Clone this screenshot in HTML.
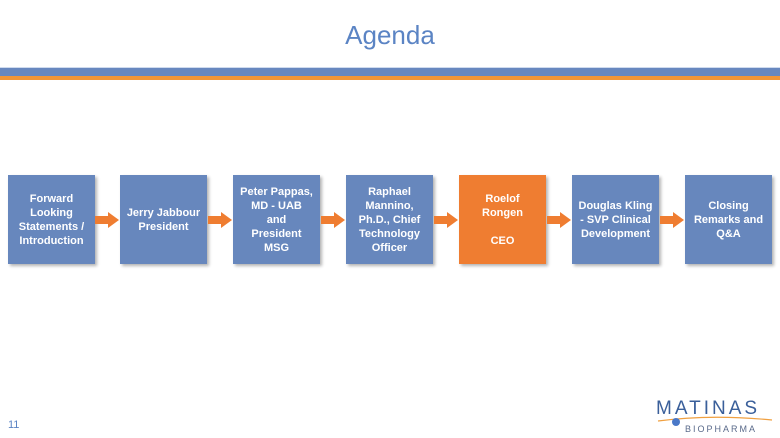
<!DOCTYPE html>
<html><head><style>
body{margin:0;width:780px;height:438px;background:#fff;position:relative;overflow:hidden;font-family:"Liberation Sans",sans-serif}
.t{position:absolute;top:20px;left:0;width:780px;text-align:center;font-size:26px;color:#5b84c4}
.b{position:absolute;width:87px;height:89px;top:175px;background:#6787bd;box-shadow:2px 2px 3px rgba(0,0,0,.3);color:#fff;font-weight:bold;font-size:11px;line-height:14px;display:flex;align-items:center;justify-content:center;text-align:center}
.o{background:#ef7d31}
.a{position:absolute;top:212px;width:26px;height:16px}
</style></head><body>
<div class="t">Agenda</div>
<div style="position:absolute;top:67px;left:0;width:780px;height:1px;background:#cfdbee"></div>
<div style="position:absolute;top:68px;left:0;width:780px;height:8px;background:#6888bf"></div>
<div style="position:absolute;top:76px;left:0;width:780px;height:4px;background:#f29637"></div>
<div class="b" style="left:8px">Forward<br>Looking<br>Statements /<br>Introduction</div>
<div class="b" style="left:120px">Jerry Jabbour<br>President</div>
<div class="b" style="left:233px">Peter Pappas,<br>MD - UAB<br>and<br>President<br>MSG</div>
<div class="b" style="left:346px">Raphael<br>Mannino,<br>Ph.D., Chief<br>Technology<br>Officer</div>
<div class="b o" style="left:459px">Roelof<br>Rongen<br><br>CEO</div>
<div class="b" style="left:572px">Douglas Kling<br>- SVP Clinical<br>Development</div>
<div class="b" style="left:685px">Closing<br>Remarks and<br>Q&amp;A</div>
<svg width="780" height="438" style="position:absolute;left:0;top:0">
<g fill="#ef7d31">
<polygon points="95,216 108,216 108,212 119,220 108,228 108,224 95,224"/>
<polygon points="208,216 221,216 221,212 232,220 221,228 221,224 208,224"/>
<polygon points="321,216 334,216 334,212 345,220 334,228 334,224 321,224"/>
<polygon points="434,216 447,216 447,212 458,220 447,228 447,224 434,224"/>
<polygon points="547,216 560,216 560,212 571,220 560,228 560,224 547,224"/>
<polygon points="660,216 673,216 673,212 684,220 673,228 673,224 660,224"/>
</g>
<path d="M658,421 Q710,414 772,420" stroke="#f0a040" stroke-width="1.2" fill="none"/>
<circle cx="676" cy="422" r="4" fill="#4a78c8"/>
</svg>
<div style="position:absolute;left:656px;top:398px;font-size:19px;letter-spacing:3px;color:#3a5f9a">MATINAS</div>
<div style="position:absolute;left:685px;top:424px;font-size:9px;letter-spacing:2px;color:#5a6a8a">BIOPHARMA</div>
<div style="position:absolute;left:8px;top:419px;font-size:11px;color:#5b84c4">11</div>
</body></html>
